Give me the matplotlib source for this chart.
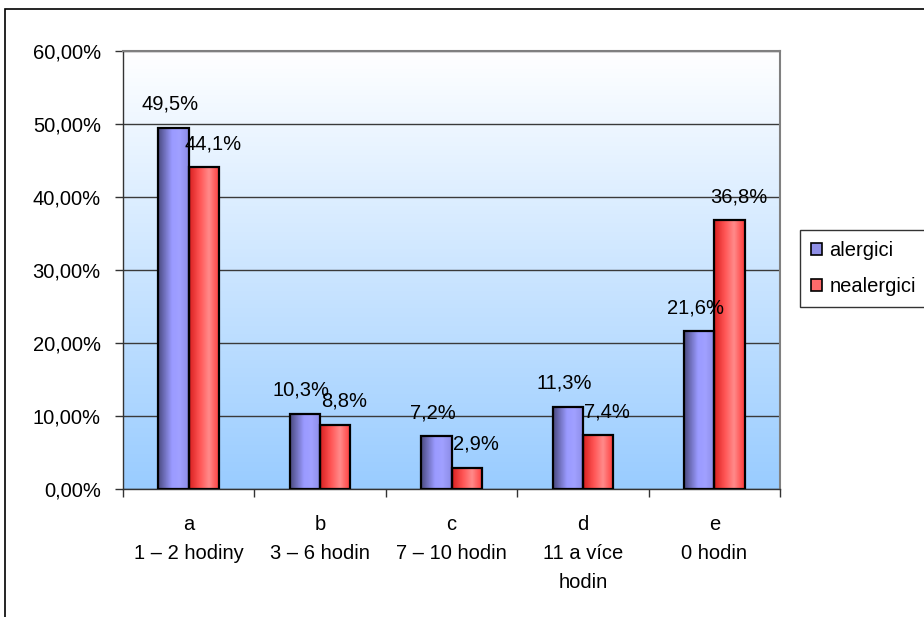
import numpy as np
import matplotlib
matplotlib.use("Agg")
import matplotlib.pyplot as plt
from matplotlib.patches import Rectangle, Patch
from matplotlib.colors import LinearSegmentedColormap
from matplotlib.ticker import FuncFormatter, MultipleLocator

plt.rcParams['font.family'] = ['Liberation Sans', 'DejaVu Sans']

categories = ["a\n1 – 2 hodiny", "b\n3 – 6 hodin", "c\n7 – 10 hodin",
              "d\n11 a více\nhodin", "e\n0 hodin"]
alergici = [49.5, 10.3, 7.2, 11.3, 21.6]
nealergici = [44.1, 8.8, 2.9, 7.4, 36.8]
series_names = ["alergici", "nealergici"]

FS = 14.5
W, H = 924, 617
fig = plt.figure(figsize=(W / 100, H / 100), dpi=100)
fig.patch.set_facecolor("white")

# outer chart border (left and top edges visible)
fig.add_artist(Rectangle((5 / W, -0.1), 1.1, 1 - 9 / H + 0.1, transform=fig.transFigure,
                         facecolor="none", edgecolor="black", linewidth=1.2))

left, right, top, bottom = 123 / W, 780 / W, 1 - 51 / H, 1 - 489 / H
ax = fig.add_axes([left, bottom, right - left, top - bottom])

n = len(categories)
x = np.arange(n)
bw = 0.23

# plot-area background: white at top fading to light blue at bottom
bg = LinearSegmentedColormap.from_list("bg", ["#99CCFF", "#FFFFFF"])
grad = np.linspace(0, 1, 256).reshape(-1, 1)
ax.imshow(grad, cmap=bg, aspect="auto", extent=[0, 1, 0, 1],
          transform=ax.transAxes, origin="lower", zorder=0)

# horizontal gridlines
ax.yaxis.set_major_locator(MultipleLocator(10))
ax.grid(axis="y", color="#3a3a3a", linewidth=1.0, zorder=1)
ax.set_axisbelow(True)

blue_cm = LinearSegmentedColormap.from_list(
    "b", [(0, "#4a4a80"), (0.45, "#9a9aff"), (0.7, "#a0a0ff"), (1, "#8c8ce6")])
red_cm = LinearSegmentedColormap.from_list(
    "r", [(0, "#d82020"), (0.35, "#ff5555"), (0.65, "#ff8a8a"), (1, "#ff3a3a")])
hgrad = np.linspace(0, 1, 64).reshape(1, -1)

def shaded_bars(xpos, vals, cmap, label):
    bars = ax.bar(xpos, vals, bw, facecolor="none", edgecolor="black",
                  linewidth=1.6, zorder=4, label=label)
    for b in bars:
        x0, w, h = b.get_x(), b.get_width(), b.get_height()
        im = ax.imshow(hgrad, cmap=cmap, aspect="auto",
                       extent=[x0, x0 + w, 0, h], zorder=3)
        im.set_clip_path(b)
    return bars

b1 = shaded_bars(x - bw / 2, alergici, blue_cm, series_names[0])
b2 = shaded_bars(x + bw / 2, nealergici, red_cm, series_names[1])
ax.set_xlim(-0.5, n - 0.5)
ax.set_ylim(0, 60)

def fmt_val(v):
    return f"{v:.1f}".replace(".", ",") + "%"

for bars, dx in ((b1, -0.03), (b2, 0.07)):
    for b in bars:
        ax.annotate(fmt_val(b.get_height()),
                    (b.get_x() + b.get_width() / 2 + dx, b.get_height()),
                    xytext=(0, 10), textcoords="offset points",
                    ha="center", va="bottom", fontsize=FS, zorder=6)

# axes styling
ax.yaxis.set_major_formatter(FuncFormatter(lambda v, p: f"{v:.2f}".replace(".", ",") + "%"))
ax.set_xticks(np.arange(n + 1) - 0.5, minor=False)
ax.set_xticklabels([])
ax.set_xticks(x, minor=True)
ax.set_xticklabels(categories, minor=True, fontsize=FS, linespacing=1.65, va="top")
ax.tick_params(axis="x", which="minor", length=0, pad=19)
ax.tick_params(axis="x", which="major", length=6, width=1, color="#333333", direction="out")
ax.tick_params(axis="y", length=6, width=1, color="#333333", direction="out",
               labelsize=FS, pad=10)
for s in ("top", "right"):
    ax.spines[s].set_color("#808080")
    ax.spines[s].set_linewidth(1.5)
for s in ("left", "bottom"):
    ax.spines[s].set_color("#333333")
    ax.spines[s].set_linewidth(1.0)

handles = [Patch(facecolor="#8f8fe6", edgecolor="black", linewidth=1.2),
           Patch(facecolor="#ff6a6a", edgecolor="black", linewidth=1.2)]
leg = fig.legend(handles, series_names, loc="upper left",
                 bbox_to_anchor=(800 / W, 1 - 230 / H), frameon=True,
                 fontsize=FS, handlelength=0.55, handleheight=0.55,
                 handletextpad=0.35, labelspacing=0.85, borderpad=0.55,
                 fancybox=False, borderaxespad=0)
leg.get_frame().set_edgecolor("black")
leg.get_frame().set_linewidth(1.0)

fig.savefig("out.png", dpi=100)
